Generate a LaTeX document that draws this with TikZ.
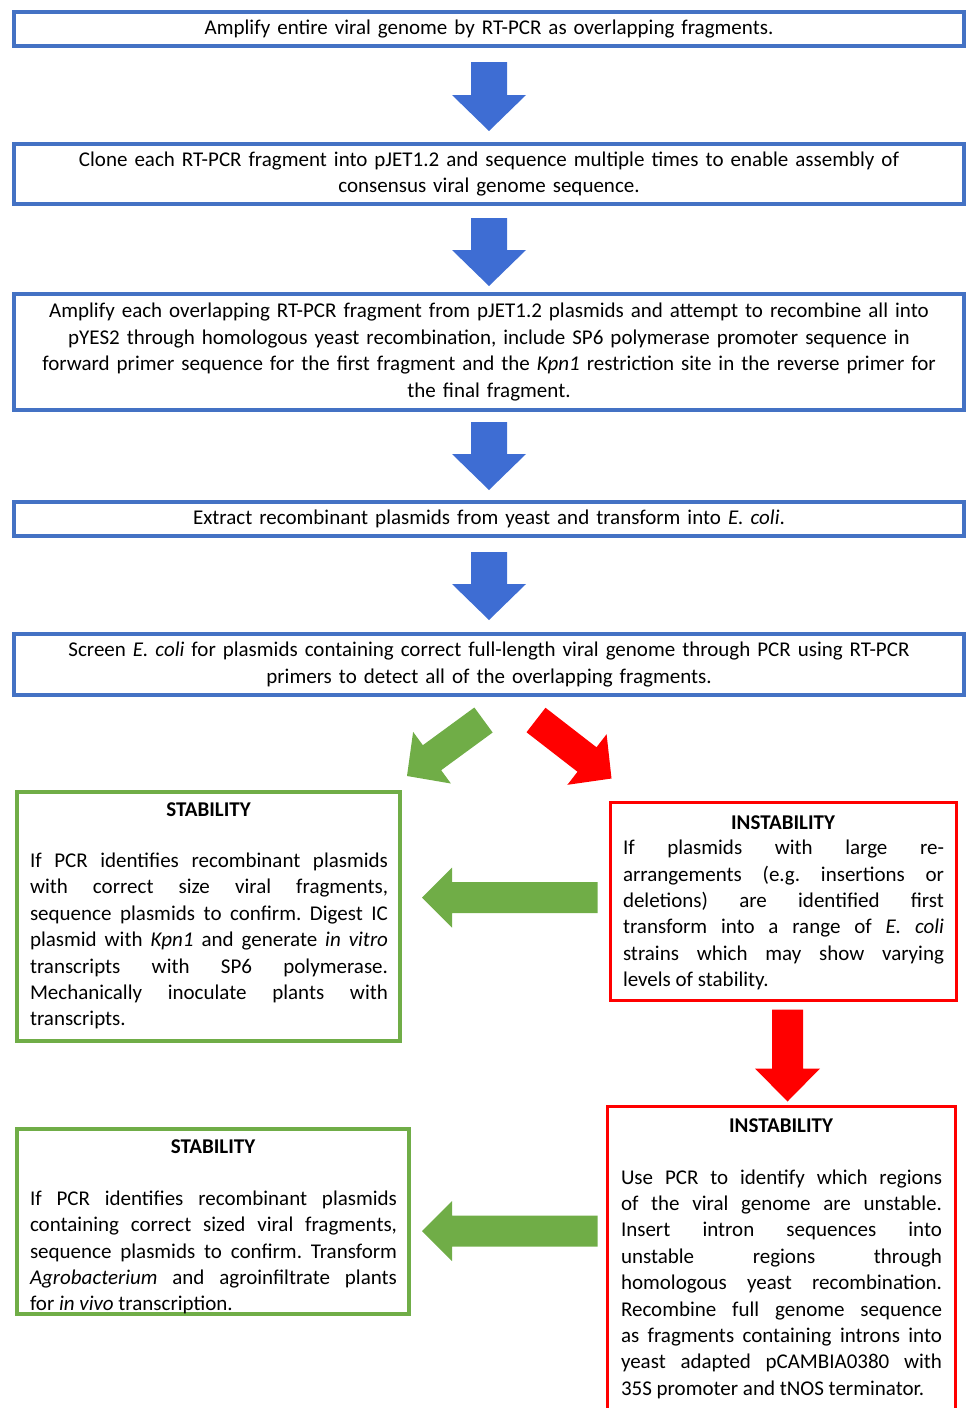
\documentclass[tikz,border=0pt]{standalone}
\usepackage{fontspec}
\setmainfont{Carlito}
\usetikzlibrary{calc}
\frenchspacing
\definecolor{boxblue}{HTML}{4472C4}
\definecolor{arrowblue}{HTML}{3E6DD3}
\definecolor{stabgreen}{HTML}{70AD47}
\definecolor{instabred}{HTML}{FF0000}
% block arrow: tail, tip, shaft half width, head half width, head length, colour
\newcommand{\blockarrow}[6]{%
  \path ($(#2)!#5!(#1)$) coordinate (bahead);%
  \fill[#6] ($(#1)!#3!90:(#2)$) -- ($(bahead)!#3!90:(#2)$) -- ($(bahead)!#4!90:(#2)$) -- (#2) --
    ($(bahead)!#4!-90:(#2)$) -- ($(bahead)!#3!-90:(#2)$) -- ($(#1)!#3!-90:(#2)$) -- cycle;%
}
\begin{document}
\begin{tikzpicture}[x=0.5pt,y=-0.5pt,
    every node/.style={font=\fontsize{10.5}{13.2}\selectfont},
    stepbox/.style={draw=boxblue,line width=2pt,minimum width=475pt,inner xsep=8pt,inner ysep=0pt,
      text width=459pt,align=center},
    stabbox/.style={draw=stabgreen,line width=2pt,inner sep=0pt},
    instabbox/.style={draw=instabred,line width=1.5pt,inner sep=0pt},
    headtext/.style={inner sep=0pt,font=\fontsize{10.5}{13.2}\selectfont\bfseries},
    bodytext/.style={inner sep=0pt,align=justify}]
    \clip (0,0) rectangle (968,1408);
    
    % Drawing the five steps
    \node[stepbox,minimum height=17pt] (amp) at (489,29) {Amplify entire viral genome by RT-PCR as overlapping fragments.};%
    \node[stepbox,minimum height=30pt] (clone) at (489,174) {Clone each RT-PCR fragment into pJET1.2 and sequence multiple times to enable assembly of\\ consensus viral genome sequence.};%
    \node[stepbox,minimum height=58pt] (recomb) at (489,352) {Amplify each overlapping RT-PCR fragment from pJET1.2 plasmids and attempt to recombine all into\\ pYES2 through homologous yeast recombination, include SP6 polymerase promoter sequence in\\ forward primer sequence for the first fragment and the \textit{Kpn1} restriction site in the reverse primer for\\ the final fragment.};%
    \node[stepbox,minimum height=17pt] (extract) at (489,519) {Extract recombinant plasmids from yeast and transform into \textit{E. coli}.};%
    \node[stepbox,minimum height=30.5pt] (screen) at (489,664.5) {Screen \textit{E. coli} for plasmids containing correct full-length viral genome through PCR using RT-PCR\\ primers to detect all of the overlapping fragments.};%
    
    % Drawing the stability boxes
    \node[stabbox,minimum width=191.5pt,minimum height=124.5pt] (stab1) at (208.5,916.5) {};%
    \node[headtext] (stab1head) at (208.5,810) {STABILITY};%
    \node[bodytext,text width=179pt] (stab1body) at (209,941) {If PCR identifies recombinant plasmids\linebreak with correct size viral fragments,\linebreak sequence plasmids to confirm. Digest IC\linebreak plasmid with \textit{Kpn1} and generate \textit{in vitro}\linebreak transcripts with SP6 polymerase.\linebreak Mechanically inoculate plants with\linebreak transcripts.};%
    
    \node[stabbox,minimum width=196pt,minimum height=92.5pt] (stab2) at (213,1221.5) {};%
    \node[headtext] (stab2head) at (213,1147) {STABILITY};%
    \node[bodytext,text width=183.5pt] (stab2body) at (213.5,1252.5) {If PCR identifies recombinant plasmids\linebreak containing correct sized viral fragments,\linebreak sequence plasmids to confirm. Transform\linebreak \textit{Agrobacterium} and agroinfiltrate plants\linebreak for \textit{in vivo} transcription.};%
    
    % Drawing the instability boxes
    \node[instabbox,minimum width=173pt,minimum height=99pt] (instab1) at (783.5,901.5) {};%
    \node[headtext] (instab1head) at (783,823) {INSTABILITY};%
    \node[bodytext,text width=160.5pt] (instab1body) at (783.5,915) {If plasmids with large re-\linebreak arrangements (e.g. insertions or\linebreak deletions) are identified first\linebreak transform into a range of \textit{E. coli}\linebreak strains which may show varying\linebreak levels of stability.};%
    
    \node[instabbox,minimum width=174pt,minimum height=161.75pt] (instab2) at (781.5,1268.25) {};%
    \node[headtext] (instab2head) at (781,1126) {INSTABILITY};%
    \node[bodytext,text width=160.5pt] (instab2body) at (781.5,1284) {Use PCR to identify which regions\linebreak of the viral genome are unstable.\linebreak Insert intron sequences into\linebreak unstable regions through\linebreak homologous yeast recombination.\linebreak Recombine full genome sequence\linebreak as fragments containing introns into\linebreak yeast adapted pCAMBIA0380 with\linebreak 35S promoter and tNOS terminator.};%
    
    % Drawing blue arrows between steps
    \coordinate (a1s) at ($(amp.south)+(0,14)$);%
    \coordinate (a1e) at ($(clone.north)+(0,-11)$);%
    \coordinate (a2s) at ($(clone.south)+(0,12)$);%
    \coordinate (a2e) at ($(recomb.north)+(0,-6)$);%
    \coordinate (a3s) at ($(recomb.south)+(0,10)$);%
    \coordinate (a3e) at ($(extract.north)+(0,-10)$);%
    \coordinate (a4s) at ($(extract.south)+(0,14)$);%
    \coordinate (a4e) at ($(screen.north)+(0,-12)$);%
    \foreach \a in {a1,a2,a3,a4}
      \blockarrow{\a s}{\a e}{9pt}{18.5pt}{18pt}{arrowblue};%
    
    % Drawing diagonal arrows
    \coordinate (d1s) at ($(screen.south)+(-5.5,23)$);%
    \coordinate (d1e) at ($(stab1.north east)+(5,-14)$);%
    \blockarrow{d1s}{d1e}{7.75pt}{16pt}{15.5pt}{stabgreen};%
    \coordinate (d2s) at ($(screen.south)+(47,23)$);%
    \coordinate (d2e) at ($(instab1.north west)+(2.5,-22.5)$);%
    \blockarrow{d2s}{d2e}{7.75pt}{16pt}{15.5pt}{instabred};%
    
    % Drawing green arrows back to stability
    \coordinate (g1e) at ($(stab1.east)+(20,-19)$);%
    \coordinate (g1s) at ($(instab1.west |- g1e)+(-11.5,0)$);%
    \blockarrow{g1s}{g1e}{7.75pt}{15pt}{15pt}{stabgreen};%
    \coordinate (g2e) at ($(stab2.east)+(11,9.5)$);%
    \coordinate (g2s) at ($(instab2.west |- g2e)+(-8.5,0)$);%
    \blockarrow{g2s}{g2e}{7.75pt}{15pt}{15pt}{stabgreen};%
    
    % Drawing red arrow down to second instability
    \coordinate (r1s) at ($(instab1.south)+(4,7.5)$);%
    \coordinate (r1e) at ($(instab2.north)+(6,-3.5)$);%
    \blockarrow{r1s}{r1e}{7.75pt}{16.25pt}{16.5pt}{instabred};%
\end{tikzpicture}
\end{document}
